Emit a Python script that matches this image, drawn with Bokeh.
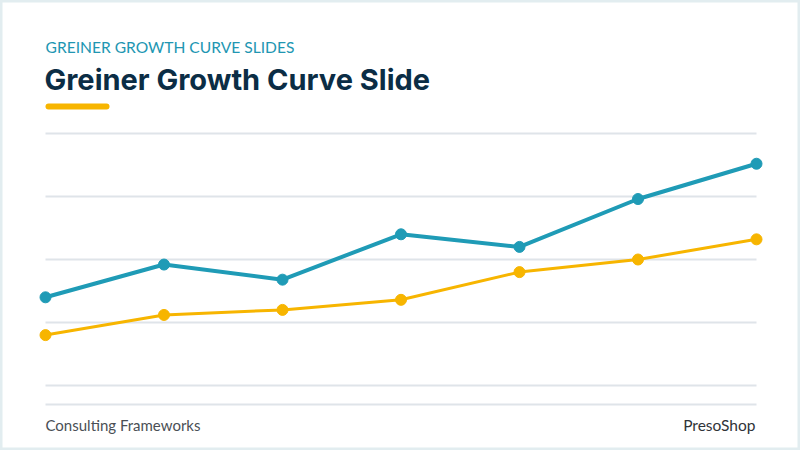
from bokeh.plotting import figure
from bokeh.models import ColumnDataSource, Range1d
from bokeh.core.properties import value
from bokeh.embed import file_html
from bokeh.resources import INLINE

# data
periods = [1, 2, 3, 4, 5, 6, 7]
series_top = [35, 48, 42, 60, 55, 74, 88]
series_bottom = [20, 28, 30, 34, 45, 50, 58]
grid_values = [0, 25, 50, 75, 100]

subtitle = "GREINER GROWTH CURVE SLIDES"
title = "Greiner Growth Curve Slide"
footer_left = "Consulting Frameworks"
footer_right = "PresoShop"

TEAL = "#1f9bb6"
GOLD = "#f7b500"
NAVY = "#0b2d45"
GRID = "#dfe4e9"

W, H = 800, 450
# pixel layout of the slide
step_px = 118.5      # distance between periods
left_px = 45         # first period
zero_px = 385        # value 0
unit_px = 2.52       # pixels per value unit


def dx(px):
    return periods[0] + (px - left_px) / step_px


def dy(py):
    return (zero_px - py) / unit_px


p = figure(width=W, height=H, output_backend="svg", toolbar_location=None,
           tools="", min_border=0,
           x_range=Range1d(dx(0), dx(W)), y_range=Range1d(dy(H), dy(0)))
p.axis.visible = False
p.grid.visible = False
p.background_fill_color = "white"
p.border_fill_color = "white"
p.outline_line_color = "#e2edf0"
p.outline_line_width = 4

# horizontal guide lines
gsrc = ColumnDataSource(dict(y=grid_values,
                             x0=[periods[0]] * len(grid_values),
                             x1=[periods[-1]] * len(grid_values)))
p.segment(x0="x0", y0="y", x1="x1", y1="y", source=gsrc,
          line_color=GRID, line_width=2)
# footer rule
p.segment(x0=[periods[0]], y0=[dy(404)], x1=[periods[-1]], y1=[dy(404)],
          line_color=GRID, line_width=2)

src = ColumnDataSource(dict(x=periods, a=series_top, b=series_bottom))
p.line("x", "b", source=src, line_color=GOLD, line_width=3)
p.scatter("x", "b", source=src, size=11, fill_color=GOLD, line_color=GOLD)
p.line("x", "a", source=src, line_color=TEAL, line_width=4)
p.scatter("x", "a", source=src, size=11, fill_color=TEAL, line_color=TEAL)

# header
p.text(x=[dx(45)], y=[dy(46)], text=[subtitle], text_font=value("Lato"),
       text_font_size="15.6px", text_color="#2196b2", text_baseline="middle")
p.text(x=[dx(44)], y=[dy(79)], text=[title], text_font=value("Inter"),
       text_font_size="29px", text_font_style="bold", text_color=NAVY,
       text_baseline="middle")
p.segment(x0=[dx(48)], y0=[dy(106)], x1=[dx(106)], y1=[dy(106)],
          line_color=GOLD, line_width=6, line_cap="round")

# footer
p.text(x=[dx(45)], y=[dy(424)], text=[footer_left], text_font=value("Lato"),
       text_font_size="15px", text_color="#4a4f55", text_baseline="middle")
p.text(x=[dx(755)], y=[dy(424)], text=[footer_right], text_font=value("Lato"),
       text_font_size="15.5px", text_color="#2f3338", text_baseline="middle",
       text_align="right")

open("out.html", "w").write(file_html(p, INLINE))
